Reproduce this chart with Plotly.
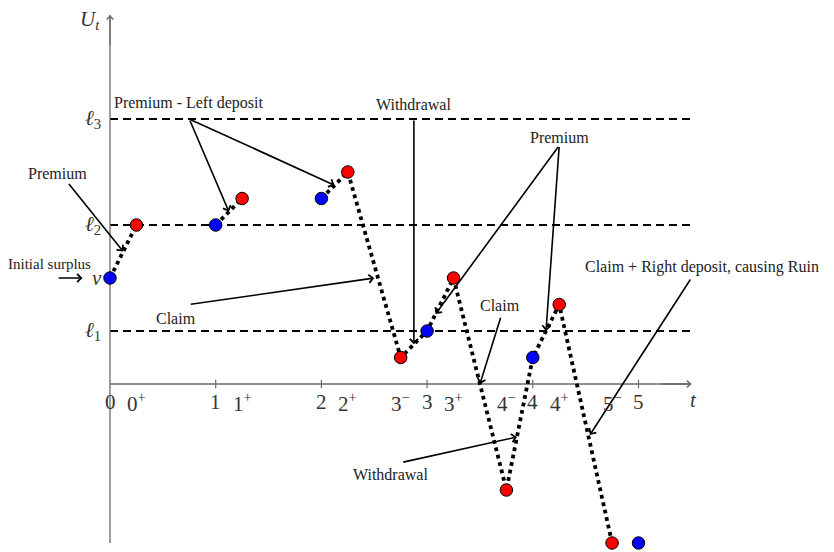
import plotly.graph_objects as go

# ---------------- data ----------------
path_t = [0, 0.25, 1, 1.25, 2, 2.25, 2.75, 3, 3.25, 3.75, 4, 4.25, 4.75, 5]
path_U = [1, 1.5, 1.5, 1.75, 1.75, 2, 0.25, 0.5, 1, -1, 0.25, 0.75, -1.5, -1.5]
point_kind = ["b", "r", "b", "r", "b", "r", "r", "b", "r", "r", "b", "r", "r", "b"]
# dotted segments (index runs)
dotted_runs = [[0, 1], [2, 3], [4, 5, 6, 7, 8, 9, 10, 11, 12]]

tick_pos = [0, 0.25, 1, 1.25, 2, 2.25, 2.75, 3, 3.25, 3.75, 4, 4.25, 4.75, 5]
tick_text = ["0", "0<sup>+</sup>", "1", "1<sup>+</sup>", "2", "2<sup>+</sup>",
             "3<sup>\u2212</sup>", "3", "3<sup>+</sup>", "4<sup>\u2212</sup>", "4",
             "4<sup>+</sup>", "5<sup>\u2212</sup>", "5"]
int_ticks = [1, 2, 3, 4, 5]

levels = [0.5, 1.5, 2.5]
level_labels = ["<i>\u2113</i><sub>1</sub>", "<i>\u2113</i><sub>2</sub>", "<i>\u2113</i><sub>3</sub>"]
v_level = 1.0

t_max = 5.5
y_bottom = -1.5
y_top = 3.48

# text labels: (text, x, y, size)
labels = [
    ("Premium", -0.50, 1.99, 16),
    ("Initial surplus", -0.57, 1.135, 15),
    ("Premium - Left deposit", 0.74, 2.65, 16),
    ("Withdrawal", 2.875, 2.64, 16),
    ("Premium", 4.25, 2.33, 16),
    ("Claim", 0.62, 0.62, 16),
    ("Claim", 3.69, 0.745, 16),
    ("Withdrawal", 2.65, -0.85, 16),
    ("Claim + Right deposit, causing Ruin", 5.6, 1.10, 16),
]
# arrows: (tail_x, tail_y, tip_x, tip_y)
arrows = [
    (-0.40, 1.90, 0.125, 1.25),
    (-0.50, 1.0, -0.26, 1.0),
    (0.75, 2.5, 1.125, 1.625),
    (0.75, 2.5, 2.125, 1.875),
    (2.875, 2.5, 2.875, 0.375),
    (4.25, 2.25, 3.08, 0.66),
    (4.25, 2.25, 4.125, 0.5),
    (0.75, 0.75, 2.5, 1.0),
    (3.70, 0.64, 3.5, 0.0),
    (2.76, -0.74, 3.85, -0.5),
    (5.5, 1.0, 4.54, -0.48),
]

# ---------------- figure ----------------
AX = "#6b6b6b"
SERIF = "Liberation Serif, DejaVu Serif, serif"
fig = go.Figure()

# level dashed lines
for lv in levels:
    fig.add_trace(go.Scatter(x=[0, t_max], y=[lv, lv], mode="lines",
                             line=dict(color="black", width=1.8, dash="8px,5px"),
                             hoverinfo="skip"))

# x-axis baseline
fig.add_trace(go.Scatter(x=[0, t_max], y=[0, 0], mode="lines",
                         line=dict(color=AX, width=1.3), hoverinfo="skip"))
# integer ticks
tx, ty = [], []
for k in int_ticks:
    tx += [k, k, None]
    ty += [-0.04, 0.04, None]
fig.add_trace(go.Scatter(x=tx, y=ty, mode="lines", line=dict(color=AX, width=1.2),
                         hoverinfo="skip"))
# y-axis
fig.add_trace(go.Scatter(x=[0, 0], y=[y_bottom, y_top], mode="lines",
                         line=dict(color=AX, width=1.3), hoverinfo="skip"))

# dotted path
for run in dotted_runs:
    fig.add_trace(go.Scatter(x=[path_t[i] for i in run], y=[path_U[i] for i in run],
                             mode="lines", line=dict(color="black", width=3.8, dash="dot"),
                             hoverinfo="skip"))

# points
cmap = {"b": "#0000ff", "r": "#ff0000"}
fig.add_trace(go.Scatter(x=path_t, y=path_U, mode="markers", cliponaxis=False,
                         marker=dict(size=12.5, color=[cmap[k] for k in point_kind],
                                     line=dict(color="black", width=1)),
                         hoverinfo="skip"))

ann = []
# axis arrowheads
ann.append(dict(x=t_max, y=0, ax=t_max - 0.3, ay=0, xref="x", yref="y", axref="x", ayref="y",
                text="", showarrow=True, arrowhead=4, arrowsize=1, arrowwidth=1.3,
                arrowcolor=AX, standoff=0))
ann.append(dict(x=0, y=y_top, ax=0, ay=y_top - 0.3, xref="x", yref="y", axref="x", ayref="y",
                text="", showarrow=True, arrowhead=4, arrowsize=1, arrowwidth=1.3,
                arrowcolor=AX, standoff=0))

# annotation arrows
for (x0, y0, x1, y1) in arrows:
    ann.append(dict(x=x1, y=y1, ax=x0, ay=y0, xref="x", yref="y", axref="x", ayref="y",
                    text="", showarrow=True, arrowhead=4, arrowsize=1, arrowwidth=1.6,
                    arrowcolor="black", standoff=0, startstandoff=0))

# annotation texts
for (txt, x, y, sz) in labels:
    ann.append(dict(x=x, y=y, xref="x", yref="y", text=txt, showarrow=False,
                    font=dict(family=SERIF, size=sz, color="#222222"),
                    xanchor="center", yanchor="middle"))

# x tick labels
for p, s in zip(tick_pos, tick_text):
    ann.append(dict(x=p, y=-0.17, xref="x", yref="y", text=s, showarrow=False,
                    font=dict(family=SERIF, size=21, color="#333333"),
                    xanchor="center", yanchor="middle"))

# level labels
for lv, s in zip(levels, level_labels):
    ann.append(dict(x=-0.07, y=lv, xref="x", yref="y", text=s, showarrow=False,
                    font=dict(family=SERIF, size=21, color="#333333"),
                    xanchor="right", yanchor="middle"))
ann.append(dict(x=-0.06, y=v_level, xref="x", yref="y", text="<i>v</i>", showarrow=False,
                font=dict(family=SERIF, size=21, color="#333333"),
                xanchor="right", yanchor="middle"))
ann.append(dict(x=-0.19, y=y_top - 0.05, xref="x", yref="y", text="<i>U</i><sub><i>t</i></sub>",
                showarrow=False, font=dict(family=SERIF, size=21, color="#333333"),
                xanchor="center", yanchor="middle"))
ann.append(dict(x=5.52, y=-0.15, xref="x", yref="y", text="<i>t</i>", showarrow=False,
                font=dict(family=SERIF, size=21, color="#333333"),
                xanchor="center", yanchor="middle"))

# pixel scale; page body has an 8px margin, so the ranges are offset by 8px
ux, uy = 105.7, 106.0
off = 8
fig.update_layout(
    width=834, height=552,
    margin=dict(l=0, r=0, t=0, b=0),
    paper_bgcolor="white", plot_bgcolor="white",
    showlegend=False,
    annotations=ann,
    xaxis=dict(range=[(off - 110) / ux, (834 + off - 110) / ux], visible=False, fixedrange=True),
    yaxis=dict(range=[(384 - 552 - off) / uy, (384 - off) / uy], visible=False, fixedrange=True),
)

fig.write_html("out.html")
